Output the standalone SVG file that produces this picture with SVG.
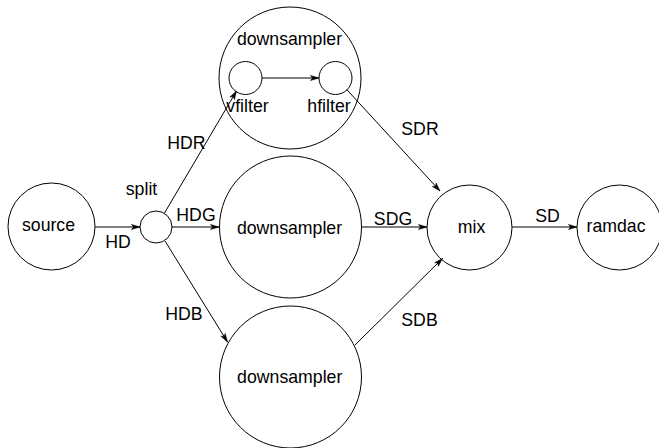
<svg xmlns="http://www.w3.org/2000/svg" width="659" height="448" viewBox="0 0 659 448">
<style>
.n{fill:none;stroke:#000;stroke-width:1}
.t{font-family:"Liberation Sans",Arial,Helvetica,sans-serif;font-size:17.7px;fill:#000;text-anchor:middle}
.e{fill:none;stroke:#000;stroke-width:1;marker-end:url(#ah)}
</style>
<defs>
<marker id="ah" markerUnits="userSpaceOnUse" viewBox="-10 -5 12 10" refX="0" refY="0" markerWidth="12" markerHeight="10" orient="auto" overflow="visible">
<path d="M0,0 L-8.5,-2.6 L-6.5,0 L-8.5,2.6 Z" fill="#000" stroke="#000" stroke-width="0.5" stroke-linejoin="miter"/>
</marker>
</defs>
<rect width="659" height="448" fill="#fff"/>
<g id="source"><circle class="n" cx="51.5" cy="226.5" r="43.5"/><text class="t" x="48.5" y="230.7">source</text></g>
<g id="split"><circle class="n" cx="156" cy="227" r="16"/><text class="t" x="141.5" y="195">split</text></g>
<g id="downsampler_r"><circle class="n" cx="290" cy="78" r="71"/><text class="t" x="289.5" y="45">downsampler</text>
<g id="vfilter"><circle class="n" cx="245.5" cy="78" r="16.5"/><text class="t" x="247.5" y="111.5">vfilter</text></g>
<g id="hfilter"><circle class="n" cx="335.5" cy="78" r="16.5"/><text class="t" x="329" y="111.5">hfilter</text></g>
</g>
<g id="downsampler_g"><circle class="n" cx="290.5" cy="227" r="71"/><text class="t" x="289.5" y="233.5">downsampler</text></g>
<g id="downsampler_b"><circle class="n" cx="290.5" cy="377" r="71"/><text class="t" x="289.7" y="382.7">downsampler</text></g>
<g id="mix"><circle class="n" cx="469.5" cy="227.5" r="42.5"/><text class="t" x="471.5" y="233">mix</text></g>
<g id="ramdac"><circle class="n" cx="619.5" cy="227.5" r="42.5"/><text class="t" x="616" y="231.7">ramdac</text></g>
<g id="connectors">
<path class="e" d="M95,227 L140,227"/>
<path class="e" d="M172,227 L219,227"/>
<path class="e" d="M164.5,213 L236.5,91"/>
<path class="e" d="M165,241 L227.5,342"/>
<path class="e" d="M262,78 L319,78"/>
<path class="e" d="M346.7,89.5 L440,191"/>
<path class="e" d="M362,227 L427,227"/>
<path class="e" d="M355,345 L442.5,258.5"/>
<path class="e" d="M512,227 L577,227"/>
<text class="t" x="118" y="247.7">HD</text>
<text class="t" x="196" y="221">HDG</text>
<text class="t" x="186.5" y="149">HDR</text>
<text class="t" x="184" y="320">HDB</text>
<text class="t" x="420" y="135">SDR</text>
<text class="t" x="393" y="225">SDG</text>
<text class="t" x="419.5" y="325.7">SDB</text>
<text class="t" x="547.5" y="221.7">SD</text>
</g>
</svg>
